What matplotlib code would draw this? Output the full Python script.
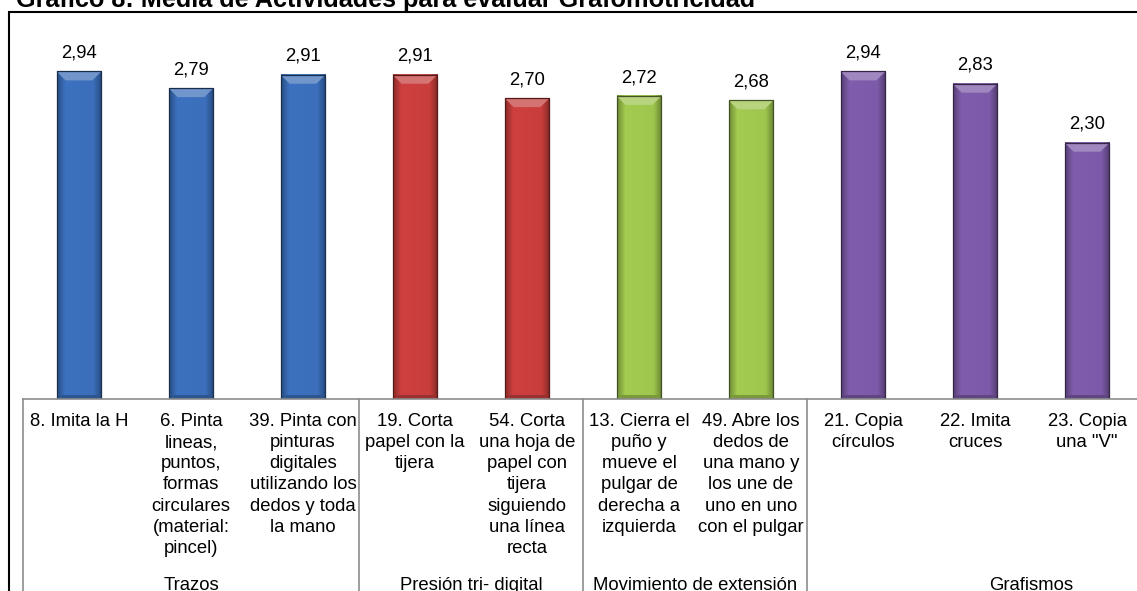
import numpy as np
import matplotlib
matplotlib.use("Agg")
import matplotlib.pyplot as plt
from matplotlib.patches import Rectangle, Polygon
from matplotlib.colors import to_rgb

plt.rcParams['font.family'] = ['Liberation Sans', 'DejaVu Sans']

title = "Gráfico 8: Media de Actividades para evaluar Grafomotricidad"
items = [
    "8. Imita la H",
    "6. Pinta\nlineas,\npuntos,\nformas\ncirculares\n(material:\npincel)",
    "39. Pinta con\npinturas\ndigitales\nutilizando los\ndedos y toda\nla mano",
    "19. Corta\npapel con la\ntijera",
    "54. Corta\nuna hoja de\npapel con\ntijera\nsiguiendo\nuna línea\nrecta",
    "13. Cierra el\npuño y\nmueve el\npulgar de\nderecha a\nizquierda",
    "49. Abre los\ndedos de\nuna mano y\nlos une de\nuno en uno\ncon el pulgar",
    "21. Copia\ncírculos",
    "22. Imita\ncruces",
    "23. Copia\nuna \"V\"",
]
means = [2.94, 2.79, 2.91, 2.91, 2.70, 2.72, 2.68, 2.94, 2.83, 2.30]
groups = ["Trazos", "Presión tri- digital", "Movimiento de extensión", "Grafismos"]
group_sizes = [3, 2, 2, 3]
group_colors = ["#3A6DB8", "#C53D3C", "#9CC34D", "#7B59A6"]

W, H = 1137, 591
fig = plt.figure(figsize=(W / 100, H / 100), dpi=100)

slot = 112            # pixels per category
n_slots = 11          # the axis runs past the right edge of the canvas
ax_left, ax_base, ax_top = 23, 399, 9
ax = fig.add_axes([ax_left / W, (H - ax_base) / H,
                   n_slots * slot / W, (ax_base - ax_top) / H])
ax.set_xlim(-0.5, n_slots - 0.5)
ax.set_ylim(0, 3.5)
ax.axis('off')

bar_w = 0.4
px_y = (ax_base - ax_top) / 3.5
bevel_h = 9 / px_y
bevel_in = 9 / slot
bottom_h = 4 / px_y


def shade(c, f):
    c = np.array(to_rgb(c))
    if f >= 1:
        return tuple(c + (1 - c) * (f - 1))
    return tuple(c * f)


colors = []
for g, n in enumerate(group_sizes):
    colors += [group_colors[g]] * n

xs = np.arange(len(means))
for x, v, c in zip(xs, means, colors):
    x0, x1 = x - bar_w / 2, x + bar_w / 2
    # horizontal shading across the bar body
    t = np.linspace(0, 1, 60)
    prof = 0.72 + 0.33 * np.clip(np.minimum(t, 1 - t) / 0.18, 0, 1)
    prof = prof - 0.04 * t
    base = np.array(to_rgb(c))
    img = np.clip(base[None, None, :] * prof[None, :, None], 0, 1)
    ax.imshow(img, extent=[x0, x1, 0, v], aspect='auto', zorder=2,
              interpolation='bilinear')
    # top bevel
    ax.add_patch(Polygon([(x0, v), (x1, v), (x1 - bevel_in, v - bevel_h),
                          (x0 + bevel_in, v - bevel_h)], closed=True,
                         facecolor=shade(c, 1.28), edgecolor='none', zorder=3))
    # bottom bevel
    ax.add_patch(Polygon([(x0, 0), (x1, 0), (x1 - bevel_in * 0.4, bottom_h),
                          (x0 + bevel_in * 0.4, bottom_h)], closed=True,
                         facecolor=shade(c, 0.78), edgecolor='none', zorder=3))
    ax.add_patch(Rectangle((x0, 0), bar_w, v, facecolor='none',
                           edgecolor=shade(c, 0.42), lw=0.9, zorder=4))
    ax.annotate(f"{v:.2f}".replace('.', ','), xy=(x, v), xytext=(0, 10),
                textcoords='offset points', ha='center', va='baseline',
                fontsize=13.3, color='black')
    ax.annotate(items[x], xy=(x, 0), xytext=(0, -10),
                textcoords='offset points', ha='center', va='top',
                fontsize=13.3, linespacing=1.32, color='black')

ax.set_xlim(-0.5, n_slots - 0.5)
ax.set_ylim(0, 3.5)

# category axis and group separators
grid_c = '#8C8C8C'
ax.plot([-0.5, n_slots - 0.5], [0, 0], color=grid_c, lw=1.2,
        clip_on=False, zorder=5)
trans = ax.get_xaxis_transform()
edges = np.concatenate([[0], np.cumsum(group_sizes)]) - 0.5
for e in edges[:-1]:
    ax.plot([e, e], [0, -0.6], color=grid_c, lw=1.2, transform=trans,
            clip_on=False)

spans = list(zip(edges[:-1], list(edges[1:-1]) + [n_slots - 0.5]))
for name, (a, b) in zip(groups, spans):
    ax.annotate(name, xy=((a + b) / 2, 0), xytext=(0, -137.5),
                textcoords='offset points', ha='center', va='baseline',
                fontsize=13.3, color='black')

# frame around the chart
fig.add_artist(Rectangle((8.5 / W, -0.2), 1.2, 1 - 11.5 / H + 0.2,
                         transform=fig.transFigure, facecolor='none',
                         edgecolor='black', lw=1.5))

fig.text(16 / W, 1 - 7 / H, title, fontsize=18.2, fontweight='bold',
         ha='left', va='baseline')

fig.savefig("out.png", dpi=100)
